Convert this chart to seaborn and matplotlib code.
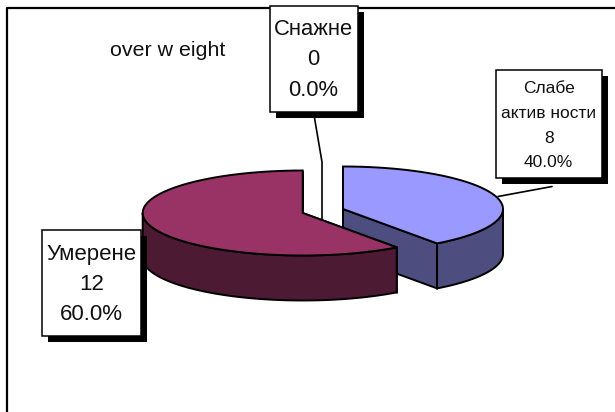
import numpy as np
import matplotlib
matplotlib.use('Agg')
import matplotlib.pyplot as plt
import seaborn as sns

labels = ['Слабе\nактив ности', 'Снажне', 'Умерене']
values = [8, 0, 12]
top_colors = ['#9999FF', '#FFFFCC', '#993366']
side_colors = ['#4D4D80', '#808066', '#4D1A33']
title = 'over w eight'

sns.set_theme(style='white')
plt.rcParams['font.family'] = ['Liberation Sans', 'DejaVu Sans']

W, H = 615, 412
RX, RY, DEPTH = 160, 42.5, 45
EDGE = 1.4

fig = plt.figure(figsize=(W / 100, H / 100), dpi=100)
ax = fig.add_axes([0, 0, 1, 1])
ax.set_xlim(0, W)
ax.set_ylim(H, 0)
ax.axis('off')


def rim(cx, cy, a0, a1, n=80):
    # angles in degrees, clockwise from the top of the pie
    t = np.radians(np.linspace(a0, a1, n))
    return cx + RX * np.sin(t), cy - RY * np.cos(t)


def slice_3d(cx, cy, a0, a1, top, side, z):
    x, y = rim(cx, cy, a0, a1)
    # cut faces, back one first
    for a in (a1, a0):
        ex, ey = rim(cx, cy, a, a, 1)
        ax.fill([cx, ex[0], ex[0], cx], [cy, ey[0], ey[0] + DEPTH, cy + DEPTH],
                fc=side, ec='black', lw=EDGE, zorder=z)
    # outer wall, only the front half of the rim can be seen
    lo, hi = max(a0, 90), min(a1, 270)
    if hi > lo:
        wx, wy = rim(cx, cy, lo, hi)
        ax.fill(np.r_[wx, wx[::-1]], np.r_[wy, wy[::-1] + DEPTH],
                fc=side, ec='black', lw=EDGE, zorder=z)
    ax.fill(np.r_[cx, x], np.r_[cy, y], fc=top, ec='black', lw=EDGE, zorder=z)


def label_box(x0, y0, x1, y1, text, size, spacing, dy, z=6):
    ax.fill([x0 + 6, x1 + 6, x1 + 6, x0 + 6], [y0 + 6, y0 + 6, y1 + 6, y1 + 6],
            fc='black', ec='none', zorder=z)
    ax.fill([x0, x1, x1, x0], [y0, y0, y1, y1], fc='white', ec='black', lw=1.1, zorder=z)
    ax.text((x0 + x1) / 2, (y0 + y1) / 2 + dy, text, ha='center', va='center',
            fontsize=size, color='#111111', linespacing=spacing, zorder=z + 1)


def label_text(i):
    return f'{labels[i]}\n{values[i]}\n{values[i] / sum(values):.1%}'


# chart frame, the right and bottom sides are not there
ax.plot([7, 7, W], [H, 8, 8], color='black', lw=1.6, zorder=1)

ax.text(168, 50, title, ha='center', va='center', fontsize=15.4, color='#111111')

angle_blue = 360 * values[0] / sum(values)
slice_3d(343, 209, 0, angle_blue, top_colors[0], side_colors[0], 2)
slice_3d(302.7, 213, angle_blue, 360, top_colors[2], side_colors[2], 3)

# leader lines
ax.plot([314, 322, 322], [115, 162, 220], color='black', lw=1.2, zorder=1.5)
ax.plot([552, 498], [186.5, 196.5], color='black', lw=1.2, zorder=1.5)

label_box(269.5, 6, 357.5, 111.5, label_text(1), 15.8, 1.58, 1)
label_box(496, 70, 601.5, 177.5, label_text(0), 12.5, 1.8, 2)
label_box(41.5, 230, 141, 336, label_text(2), 16, 1.58, 1.5)

fig.savefig('out.png', dpi=100, facecolor='white')
plt.close(fig)
